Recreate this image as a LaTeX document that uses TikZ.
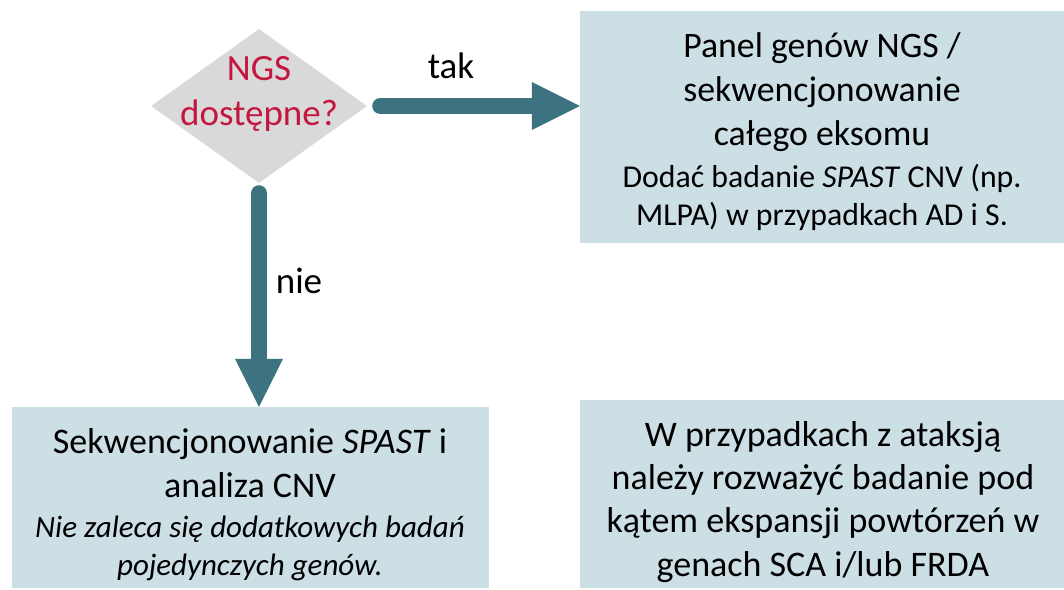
\documentclass[tikz,border=0pt]{standalone}
\usepackage{fontspec}
\setmainfont{Carlito}
\usetikzlibrary{shapes.geometric,arrows.meta,calc}
\definecolor{boxfill}{HTML}{CCDFE5}
\definecolor{arrowcol}{HTML}{3D7380}
\definecolor{diagray}{HTML}{D9D9D9}
\definecolor{qred}{HTML}{C3173F}
\tikzset{
  box/.style={draw=none,fill=boxfill,inner sep=0pt,minimum width=#1},
  bigtxt/.style={anchor=base,inner sep=0pt,font=\fontsize{35.8}{41}\selectfont},
  smalltxt/.style={anchor=base,inner sep=0pt,font=\fontsize{31.8}{37}\selectfont},
  midtxt/.style={anchor=base,inner sep=0pt,font=\fontsize{36}{43}\selectfont},
  lbltxt/.style={anchor=base,inner sep=0pt,font=\fontsize{37}{43}\selectfont},
  bigarrow/.style={draw=arrowcol,line width=16pt,line cap=round,
    -{Triangle[length=48pt,width=48pt,line width=0pt]}},
}
\begin{document}
\begin{tikzpicture}[x=1pt,y=-1pt]
\useasboundingbox (0,0) rectangle (1064,589);
% shapes
\node[diamond,fill=diagray,inner sep=0pt,minimum width=216pt,minimum height=154pt] (q) at (259,106) {};
\node[box=484pt,minimum height=232pt] (yes) at (822,127) {};
\node[box=477pt,minimum height=181pt] (no) at (250.5,497.5) {};
\node[box=484pt,minimum height=188pt] (ataxia) at (822,494) {};
% question text
\node[anchor=base,inner sep=0pt,text=qred,font=\fontsize{37}{45}\selectfont] (q1) at (259,80) {NGS};
\node[anchor=base,inner sep=0pt,text=qred,font=\fontsize{37}{45}\selectfont] (q2) at (259,125) {dostępne?};
% arrows
\draw[bigarrow] ($(q.east)+(13,0)$) -- (q.east -| yes.west);
\draw[bigarrow] ($(q.south)+(0,10)$) -- (q.south |- no.north);
\node[lbltxt] (tak) at (451,78) {tak};
\node[lbltxt] (nie) at (299,293) {nie};
% top right box text
\node[bigtxt] (y1) at (822,57) {Panel genów NGS /};
\node[bigtxt] (y2) at (822,101) {sekwencjonowanie};
\node[bigtxt] (y3) at (822,145) {całego eksomu};
\node[smalltxt] (y4) at (822,187) {Dodać badanie \textit{SPAST} CNV (np.};
\node[smalltxt] (y5) at (822,225) {MLPA) w przypadkach AD i S.};
% bottom left box text
\node[midtxt] (n1) at (250,453) {Sekwencjonowanie \textit{SPAST} i};
\node[midtxt] (n2) at (250,497) {analiza CNV};
\node[midtxt,font=\fontsize{31}{37}\itshape] (n3) at (250,537) {Nie zaleca się dodatkowych badań};
\node[midtxt,font=\fontsize{31}{37}\itshape] (n4) at (250,575) {pojedynczych genów.};
% bottom right box text
\node[midtxt] (a1) at (823,446) {W przypadkach z ataksją};
\node[midtxt] (a2) at (823,489) {należy rozważyć badanie pod};
\node[midtxt] (a3) at (823,532) {kątem ekspansji powtórzeń w};
\node[midtxt] (a4) at (823,576) {genach SCA i/lub FRDA};
\end{tikzpicture}
\end{document}
